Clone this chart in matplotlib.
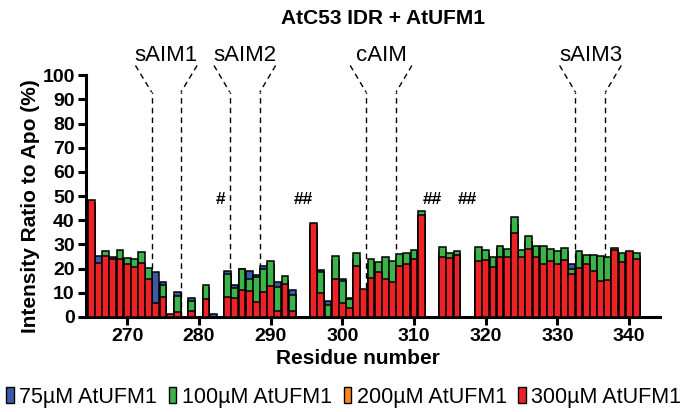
import matplotlib
matplotlib.use('Agg')
import matplotlib.pyplot as plt
from matplotlib.patches import Patch

plt.rcParams['font.family'] = ['Liberation Sans', 'DejaVu Sans']

residues = list(range(265, 345))

# 75 uM AtUFM1 (blue)
uM75 = [44.0, 25.2, 25.0, 24.6, 23.0, 21.0, 20.0, 21.0, 15.0, 18.5,
        14.6, 1.0, 10.3, 0, 7.9, 0, 12.0, 1.2, 0, 18.9,
        13.3, 20.0, 18.9, 17.5, 21.0, 22.0, 14.3, 15.0, 11.2, 0,
        0, 36.0, 19.3, 6.8, 23.0, 15.8, 7.8, 24.0, 10.0, 22.0,
        20.0, 22.0, 21.0, 24.0, 25.0, 26.0, 40.0, 0, 0, 27.0,
        25.0, 26.0, 0, 0, 27.0, 26.0, 23.0, 28.0, 26.0, 38.0,
        26.0, 31.0, 27.0, 28.0, 26.0, 26.0, 27.0, 21.8, 25.0, 24.0,
        24.0, 23.0, 23.0, 27.0, 25.0, 26.0, 25.0, 0, 0, 0]

# 100 uM AtUFM1 (green)
uM100 = [45.0, 21.5, 27.1, 23.5, 27.5, 24.2, 24.0, 26.9, 20.1, 5.0,
         13.4, 1.0, 8.5, 0, 6.6, 0, 13.1, 0, 0, 17.6,
         12.1, 19.7, 15.6, 16.7, 20.0, 23.3, 12.5, 16.8, 9.0, 0,
         0, 35.0, 18.5, 5.1, 25.1, 14.9, 7.4, 26.4, 10.5, 24.0,
         22.6, 24.7, 23.3, 26.0, 26.3, 27.5, 43.9, 0, 0, 28.8,
         26.6, 27.3, 0, 0, 28.8, 27.7, 24.7, 29.2, 28.0, 41.2,
         27.6, 33.3, 29.2, 29.5, 28.0, 27.3, 28.4, 19.7, 27.1, 25.7,
         25.5, 25.1, 24.9, 28.4, 26.6, 27.0, 26.6, 0, 0, 0]

# 200 uM AtUFM1 (orange)
uM200 = [47.0, 21.0, 24.0, 23.0, 23.0, 21.0, 20.0, 21.5, 15.0, 5.0,
         8.0, 1.0, 1.5, 0, 2.2, 0, 7.0, 0, 0, 7.5,
         7.0, 10.5, 10.0, 5.5, 10.0, 12.0, 2.0, 13.0, 2.0, 0,
         0, 37.5, 9.0, 0, 15.0, 5.0, 3.0, 20.0, 11.0, 15.0,
         18.0, 15.0, 14.0, 20.0, 21.0, 23.0, 41.0, 0, 0, 24.0,
         23.5, 25.0, 0, 0, 22.5, 22.5, 20.0, 24.0, 24.5, 34.0,
         24.0, 27.0, 24.0, 21.5, 22.5, 21.0, 23.0, 17.0, 19.5, 21.0,
         18.5, 14.5, 15.0, 27.0, 22.0, 27.0, 23.0, 0, 0, 0]

# 300 uM AtUFM1 (red)
uM300 = [48.3, 22.2, 25.2, 24.0, 24.0, 21.9, 20.6, 22.4, 15.8, 5.9,
         8.3, 1.2, 1.9, 0, 2.6, 0, 7.3, 0, 0, 8.1,
         7.7, 11.0, 10.7, 6.1, 10.3, 12.8, 2.4, 13.8, 2.4, 0,
         0, 38.7, 9.8, 0, 15.6, 5.7, 3.6, 21.0, 11.6, 16.0,
         18.5, 15.7, 14.6, 20.9, 21.8, 23.8, 42.0, 0, 0, 24.7,
         24.4, 25.5, 0, 0, 23.1, 23.4, 20.5, 24.7, 25.0, 34.6,
         24.7, 28.0, 24.7, 22.0, 23.1, 21.9, 23.7, 17.8, 20.1, 21.9,
         19.1, 15.0, 15.3, 27.7, 22.7, 27.4, 23.8, 0, 0, 0]

series = [('75µM AtUFM1', uM75, '#3a5ba9'),
          ('100µM AtUFM1', uM100, '#3bb24a'),
          ('200µM AtUFM1', uM200, '#f5891f'),
          ('300µM AtUFM1', uM300, '#ed2226')]

motifs = [('sAIM1', 273.4, 277.5), ('sAIM2', 284.3, 288.5),
          ('cAIM', 303.3, 307.5), ('sAIM3', 332.5, 336.7)]

marks = [('#', 283), ('##', 294.5), ('##', 312.5), ('##', 317.5)]

fig = plt.figure(figsize=(6.85, 4.12), dpi=100)
ax = fig.add_axes([0.1255, 0.2306, 0.838, 0.587])

# overlaid bars, highest concentration drawn last
for label, vals, color in series:
    ax.bar(residues, vals, width=0.95, color=color, edgecolor='black',
           linewidth=1.1, zorder=3, label=label)

dash = (0, (4, 3))
for name, lo, hi in motifs:
    mid = (lo + hi) / 2
    for x, xt in ((lo, mid - 4.3), (hi, mid + 4.3)):
        ax.plot([x, x], [0, 93], color='black', lw=1, ls=dash, zorder=1, clip_on=False)
        ax.plot([xt, x], [104, 93], color='black', lw=1, ls=dash, zorder=1, clip_on=False)
    ax.text(mid, 103.8, name, ha='center', va='bottom', fontsize=16)

for m, x in marks:
    ax.text(x, 48.5, m, ha='center', va='center', fontsize=12.5, fontweight='bold')

ax.set_xlim(264.25, 344.3)
ax.set_ylim(0, 100)
ax.set_xticks(range(270, 341, 10))
ax.set_yticks(range(0, 101, 10))
for s in ('top', 'right'):
    ax.spines[s].set_visible(False)
for s in ('left', 'bottom'):
    ax.spines[s].set_linewidth(2.2)
ax.tick_params(width=2.2, length=6, labelsize=14, pad=2)
for t in ax.get_xticklabels() + ax.get_yticklabels():
    t.set_fontweight('bold')

fig.text(0.559, 0.956, 'AtC53 IDR + AtUFM1', ha='center', va='center',
         fontsize=15, fontweight='bold')
fig.text(0.523, 0.131, 'Residue number', ha='center', va='center',
         fontsize=15, fontweight='bold')
fig.text(0.044, 0.5, 'Intensity Ratio to Apo (%)', ha='center', va='center',
         rotation=90, fontsize=15, fontweight='bold')

handles = [Patch(facecolor=c, edgecolor='black', linewidth=1.0, label=l) for l, _, c in series]
fig.legend(handles=handles, loc='center', bbox_to_anchor=(0.502, 0.036), ncol=4,
           frameon=False, fontsize=15.5, handlelength=0.35, handleheight=0.75,
           handletextpad=0.25, columnspacing=0.55, borderaxespad=0)

fig.savefig('out.png', dpi=100)
